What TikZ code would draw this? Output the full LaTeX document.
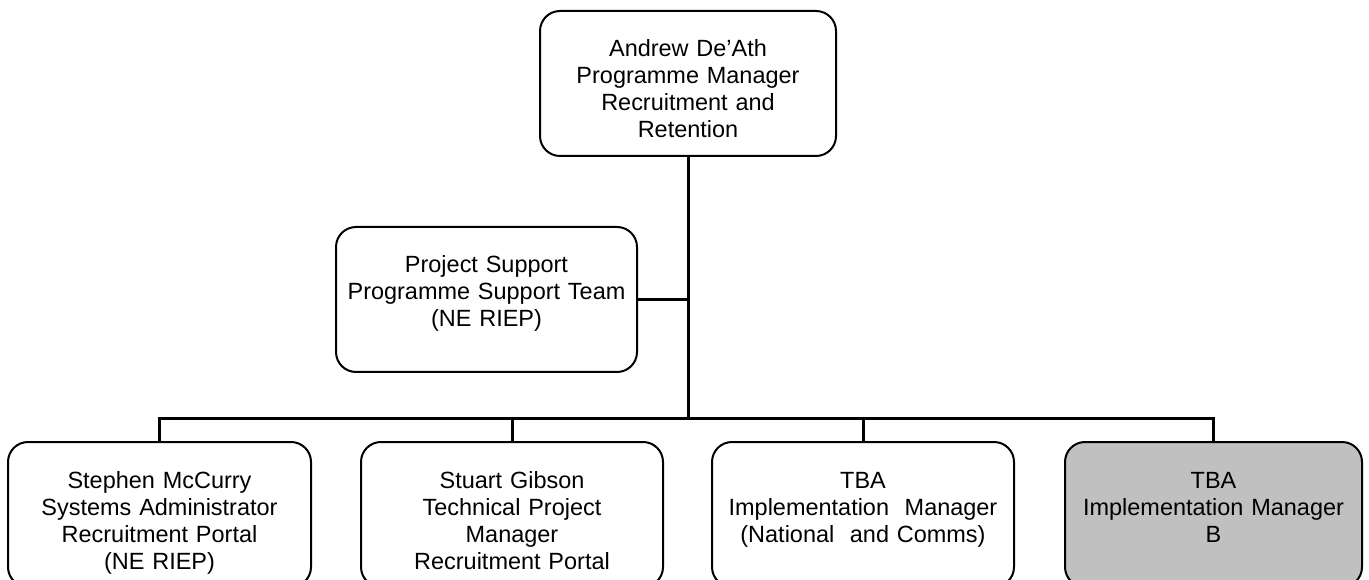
\documentclass[tikz,border=0pt]{standalone}
\usepackage{fontspec}
\setmainfont{Liberation Sans}
\definecolor{vacant}{RGB}{192,192,192}

\begin{document}
\begin{tikzpicture}[x=0.75pt,y=-0.75pt,
  post/.style={draw,line width=1.5pt,rounded corners=15pt,align=center,
    inner sep=0pt,text height=34.5pt,text depth=74.25pt,
    font=\fontsize{17.6}{20.25}\selectfont},
  wire/.style={line width=2.25pt}]
\clip (0,0) rectangle (1369,580);
\node[post,text width=222pt,anchor=north] (head) at (688,10)
  {Andrew De'Ath\\Programme Manager\\Recruitment and\\Retention};
\node[post,text width=225.75pt,anchor=north] (support) at (486.5,226)
  {Project Support\\Programme Support Team\\(NE RIEP)};
\node[post,text width=227.25pt,anchor=north] (sm) at (159.5,441)
  {Stephen McCurry\\Systems Administrator\\Recruitment Portal\\(NE RIEP)};
\node[post,text width=226.5pt,anchor=north] (sg) at (512,441)
  {Stuart Gibson\\Technical Project\\Manager\\Recruitment Portal};
\node[post,text width=226.5pt,anchor=north] (tba1) at (863,441)
  {TBA\\Implementation\ \ Manager\\(National\ \ and Comms)};
\node[post,fill=vacant,text width=222.75pt,anchor=north] (tba2) at (1213.5,441)
  {TBA\\Implementation Manager\\B};
% connectors
\coordinate (bus) at (687,418);
\draw[wire] (head.south) -- (head.south |- bus);
\draw[wire] (support.east) -- (support.east -| head.south);
\draw[wire] (sm.north) -- (bus -| sm.north) -- (bus -| tba2.north) -- (tba2.north);
\foreach \n in {sg,tba1} {
  \draw[wire] (bus -| \n.north) -- (\n.north);
}
\end{tikzpicture}
\end{document}
